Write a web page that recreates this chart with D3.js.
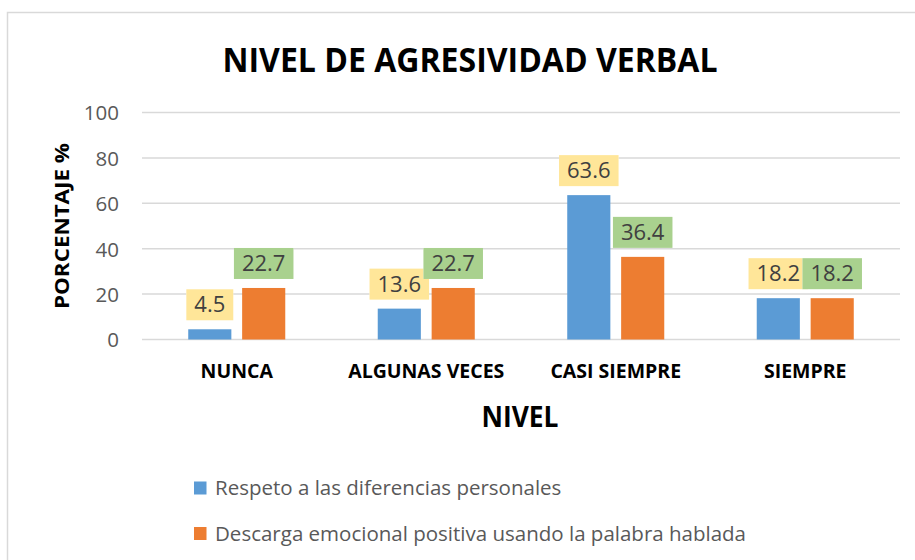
<!DOCTYPE html>
<html>
<head>
<meta charset="utf-8">
<script src="https://d3js.org/d3.v7.min.js"></script>
<style>
    body { margin: 0; background: #fff; }
    text { font-family: "Open Sans", "Noto Sans", sans-serif; }
</style>
</head>
<body>
<svg width="915" height="560"></svg>
<script>
    // chart data
    var categories = ["NUNCA", "ALGUNAS VECES", "CASI SIEMPRE", "SIEMPRE"];
    var seriesNames = ["Respeto a las diferencias personales",
                       "Descarga emocional positiva usando la palabra hablada"];
    var respeto = [4.5, 13.6, 63.6, 18.2];
    var descarga = [22.7, 22.7, 36.4, 18.2];
    var yTicks = [0, 20, 40, 60, 80, 100];

    var colors = ["#5B9BD5", "#ED7D31"];
    var labelFill = ["#FFE699", "#A9D18E"];

    var svg = d3.select("svg");

    // outer chart border
    svg.append("rect")
        .attr("x", 7.5).attr("y", 12.5)
        .attr("width", 930).attr("height", 570)
        .attr("fill", "none")
        .attr("stroke", "#d9d9d9")
        .attr("stroke-width", 1.5);

    var x0 = d3.scaleBand()
        .domain(categories)
        .range([142, 900])
        .paddingInner(0.488)
        .paddingOuter(0.244);

    var x1 = d3.scaleBand()
        .domain([0, 1])
        .range([0, x0.bandwidth()])
        .paddingInner(0.2);

    var y = d3.scaleLinear()
        .domain([0, 100])
        .range([339.5, 112.5]);

    // gridlines
    svg.append("g")
        .selectAll("line")
        .data(yTicks)
        .enter().append("line")
        .attr("x1", 142).attr("x2", 900)
        .attr("y1", function(d) { return y(d); })
        .attr("y2", function(d) { return y(d); })
        .attr("stroke", "#d9d9d9")
        .attr("stroke-width", 1.5);

    // y axis labels
    var yAxis = svg.append("g")
        .attr("transform", "translate(119,0)")
        .call(d3.axisLeft(y).tickValues(yTicks).tickSize(0).tickPadding(0));
    yAxis.select(".domain").remove();
    yAxis.selectAll("text")
        .attr("font-family", "Open Sans")
        .attr("font-size", 20.5)
        .attr("fill", "#595959")
        .attr("dy", "0.36em");

    // bars + labels
    var data = categories.map(function(c, i) {
        return { cat: c, vals: [respeto[i], descarga[i]] };
    });

    var groups = svg.append("g")
        .selectAll("g")
        .data(data)
        .enter().append("g")
        .attr("transform", function(d) { return "translate(" + x0(d.cat) + ",0)"; });

    groups.selectAll("rect")
        .data(function(d) { return d.vals; })
        .enter().append("rect")
        .attr("x", function(d, i) { return x1(i); })
        .attr("width", x1.bandwidth())
        .attr("y", function(d) { return y(d); })
        .attr("height", function(d) { return y(0) - y(d); })
        .attr("fill", function(d, i) { return colors[i]; });

    var labels = groups.selectAll("g.lbl")
        .data(function(d) { return d.vals; })
        .enter().append("g")
        .attr("class", "lbl");

    labels.each(function(d, i) {
        var g = d3.select(this);
        var cx = x1(i) + x1.bandwidth() / 2;
        var bottom = y(d) - 9;
        var t = g.append("text")
            .attr("x", cx)
            .attr("y", bottom - 8)
            .attr("text-anchor", "middle")
            .attr("font-size", 22)
            .attr("fill", "#404040")
            .text(d.toFixed(1));
        var w = t.node().getComputedTextLength() + 16;
        g.insert("rect", "text")
            .attr("x", cx - w / 2).attr("y", bottom - 35)
            .attr("width", w).attr("height", 35)
            .attr("fill", "#fff");
        g.insert("rect", "text")
            .attr("x", cx - w / 2).attr("y", bottom - 31)
            .attr("width", w).attr("height", 31)
            .attr("fill", labelFill[i]);
    });

    // x axis labels
    svg.append("g")
        .selectAll("text")
        .data(categories)
        .enter().append("text")
        .attr("x", function(d) { return x0(d) + x0.bandwidth() / 2; })
        .attr("y", 378)
        .attr("text-anchor", "middle")
        .attr("font-size", 19.5)
        .attr("font-weight", "bold")
        .attr("fill", "#000")
        .text(function(d) { return d; });

    // title
    svg.append("text")
        .attr("x", 470).attr("y", 72)
        .attr("text-anchor", "middle")
        .attr("font-size", 34)
        .attr("font-weight", "bold")
        .attr("textLength", 495)
        .attr("lengthAdjust", "spacingAndGlyphs")
        .text("NIVEL DE AGRESIVIDAD VERBAL");

    // axis titles
    svg.append("text")
        .attr("x", 520).attr("y", 427)
        .attr("text-anchor", "middle")
        .attr("font-size", 28)
        .attr("font-weight", "bold")
        .attr("textLength", 77)
        .attr("lengthAdjust", "spacingAndGlyphs")
        .text("NIVEL");

    svg.append("text")
        .attr("transform", "translate(69,226) rotate(-90)")
        .attr("text-anchor", "middle")
        .attr("font-size", 20)
        .attr("font-weight", "bold")
        .attr("textLength", 166)
        .attr("lengthAdjust", "spacingAndGlyphs")
        .text("PORCENTAJE %");

    // legend
    var legend = svg.append("g")
        .selectAll("g")
        .data(seriesNames)
        .enter().append("g")
        .attr("transform", function(d, i) { return "translate(194," + (481.5 + i * 45.5) + ")"; });

    legend.append("rect")
        .attr("width", 12.5).attr("height", 13)
        .attr("fill", function(d, i) { return colors[i]; });

    legend.append("text")
        .attr("x", 21).attr("y", 13.5)
        .attr("font-size", 20.5)
        .attr("fill", "#595959")
        .text(function(d) { return d; });
</script>
</body>
</html>
